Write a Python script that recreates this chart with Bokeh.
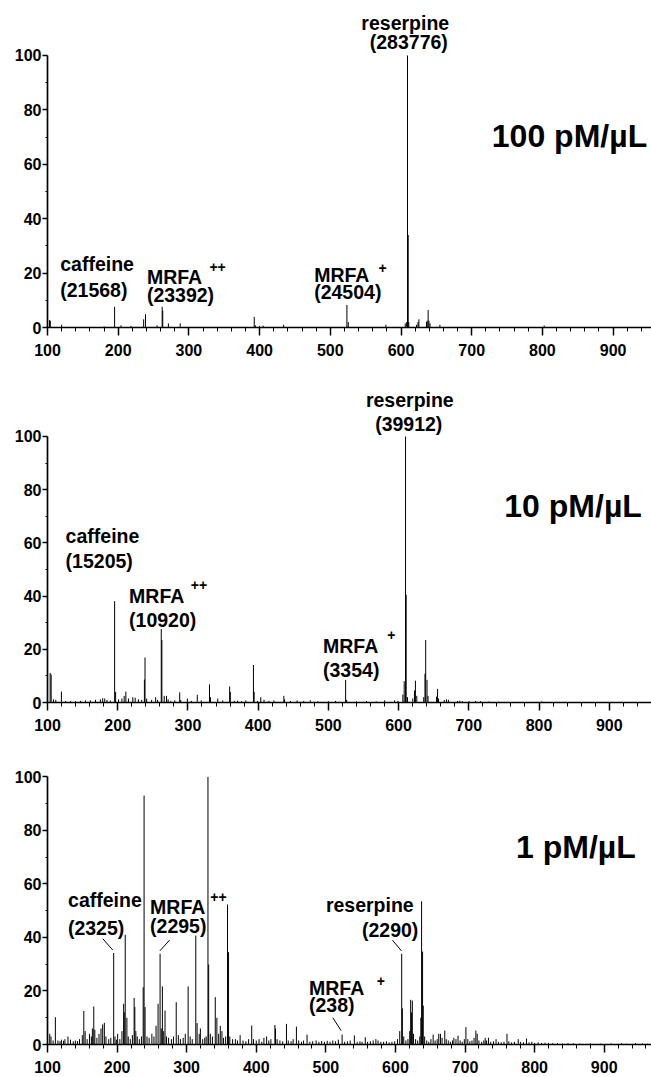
from bokeh.plotting import figure
from bokeh.models import Range1d, FixedTicker
from bokeh.layouts import column
from bokeh.embed import file_html
from bokeh.resources import INLINE
from bokeh.core.properties import value

# ---------------- data (m/z, relative abundance %) ----------------
p1_mz = [102.8, 104.0, 120.0, 180.0, 194.9, 204.0, 218.0, 236.0, 238.6, 255.0,
         262.2, 263.0, 271.0, 287.7, 392.4, 394.0, 400.0, 405.0, 434.0, 523.5,
         525.4, 578.6, 606.0, 608.0, 609.2, 610.2, 611.0, 622.0, 624.0, 625.3,
         636.0, 637.0, 638.4, 639.5, 641.0, 655.0, 802.5]
p1_int = [2.7, 2.5, 1.0, 0.4, 7.6, 0.8, 0.6, 3.0, 4.9, 0.8,
          7.6, 6.2, 1.5, 1.5, 3.9, 0.8, 0.6, 0.7, 1.0, 8.3,
          2.0, 1.0, 1.5, 2.0, 100.0, 34.0, 2.0, 1.0, 2.0, 3.0,
          2.0, 2.5, 6.4, 2.5, 1.5, 1.0, 0.7]

p2_mz = [103.8, 105.2, 108.5, 111.8, 119.8, 125.9, 133.0, 140.0, 147.0, 154.0,
         161.0, 168.3, 175.3, 178.6, 181.5, 184.7, 189.5, 195.6, 197.0, 201.2,
         206.0, 209.2, 211.6, 215.3, 221.5, 224.8, 229.5, 234.2, 238.0, 238.9,
         241.2, 248.3, 254.0, 256.8, 262.0, 262.9, 266.2, 269.5, 271.8, 275.6,
         281.3, 288.3, 289.7, 299.2, 304.8, 313.3, 318.9, 330.7, 332.1, 342.5,
         349.5, 359.4, 360.4, 366.0, 370.7, 376.4, 382.5, 393.3, 394.3, 399.0,
         403.7, 408.4, 415.4, 422.5, 436.6, 437.6, 446.0, 455.5, 464.9, 474.3,
         485.0, 500.0, 510.0, 524.6, 526.0, 540.0, 554.3, 568.4, 580.2, 594.3,
         599.0, 606.1, 608.0, 609.9, 610.8, 612.7, 620.2, 622.6, 624.0, 625.9,
         635.8, 637.6, 638.6, 640.5, 641.9, 654.1, 655.5, 656.9, 665.0, 668.2,
         671.0, 683.8, 687.1, 690.8, 700.3, 709.7, 716.7, 728.5, 742.6, 803.8]
p2_int = [11.1, 10.5, 1.2, 1.0, 4.1, 0.6, 0.5, 0.5, 0.6, 0.8,
          0.8, 1.0, 1.2, 1.6, 1.5, 1.0, 0.7, 38.1, 4.0, 1.2,
          1.5, 2.5, 4.1, 1.5, 2.0, 1.8, 1.2, 1.0, 8.6, 16.9,
          1.5, 1.0, 2.0, 1.0, 27.6, 23.5, 2.5, 2.5, 1.2, 0.6,
          0.8, 3.8, 1.0, 1.5, 0.6, 2.9, 0.8, 6.8, 2.0, 1.5,
          0.8, 6.0, 4.0, 0.6, 0.7, 0.5, 0.8, 14.1, 4.0, 0.6,
          2.0, 1.0, 0.6, 0.8, 2.5, 1.2, 0.6, 0.8, 0.6, 0.8,
          0.5, 0.5, 0.6, 8.5, 1.0, 0.4, 0.6, 0.4, 0.8, 0.8,
          0.6, 3.0, 8.0, 100.0, 40.5, 2.0, 1.5, 4.5, 8.2, 2.5,
          2.0, 10.8, 23.5, 8.5, 2.5, 2.2, 5.1, 1.5, 1.0, 1.2,
          1.0, 0.6, 0.7, 0.5, 0.5, 0.6, 0.5, 0.4, 0.3, 0.4]

p3_mz = [103.2, 105.0, 108.0, 111.3, 115.0, 118.0, 120.0, 123.0, 125.0, 129.4,
         133.0, 137.0, 140.0, 143.0, 146.0, 150.0, 152.2, 154.1, 157.0, 160.3,
         163.0, 164.5, 166.5, 168.0, 171.0, 174.0, 176.9, 179.3, 181.7, 184.0,
         188.0, 191.0, 195.1, 197.0, 199.0, 200.8, 204.0, 207.0, 209.4, 210.3,
         211.7, 214.1, 216.0, 219.0, 222.0, 224.5, 225.5, 227.0, 229.0, 232.0,
         235.0, 237.5, 238.8, 240.2, 243.0, 246.0, 250.0, 253.0, 256.0, 258.9,
         261.8, 263.5, 265.1, 267.0, 268.9, 271.0, 274.0, 278.0, 281.0, 285.0,
         288.0, 291.0, 295.0, 298.0, 302.1, 305.0, 308.0, 313.1, 315.0, 318.0,
         319.7, 323.0, 326.0, 328.0, 330.6, 331.6, 334.0, 337.0, 341.1, 343.4,
         346.0, 348.3, 350.7, 353.0, 356.0, 358.7, 360.2, 362.0, 366.0, 370.0,
         373.0, 376.8, 381.0, 385.0, 389.0, 393.5, 396.0, 400.0, 404.0, 408.0,
         411.0, 414.9, 418.0, 421.0, 426.8, 427.7, 430.0, 434.0, 438.0, 443.4,
         446.0, 450.0, 453.0, 457.7, 461.0, 465.0, 468.0, 473.0, 477.0, 481.0,
         486.0, 490.0, 494.0, 498.0, 502.0, 506.0, 510.0, 514.0, 518.0, 523.4,
         527.0, 531.0, 535.0, 541.0, 545.0, 549.0, 552.0, 556.7, 560.0, 564.0,
         568.0, 571.9, 575.0, 579.0, 583.0, 587.0, 591.0, 595.0, 599.0, 603.0,
         606.2, 609.0, 610.0, 612.0, 615.0, 618.0, 620.5, 621.9, 623.0, 624.3,
         626.0, 629.0, 632.0, 635.0, 636.5, 637.6, 639.0, 640.0, 642.0, 645.0,
         648.0, 651.0, 654.2, 657.0, 660.0, 662.3, 664.7, 667.0, 670.9, 673.0,
         676.0, 679.0, 682.0, 684.0, 687.0, 690.0, 693.0, 696.0, 699.0, 701.3,
         704.0, 707.0, 710.0, 713.0, 715.6, 717.5, 720.0, 724.0, 727.0, 729.0,
         731.0, 733.7, 737.0, 741.0, 744.6, 748.0, 752.0, 756.0, 760.3, 763.0,
         767.0, 771.0, 776.5, 780.0, 784.0, 788.4, 792.0, 796.0, 800.0, 805.0,
         810.0, 815.0, 820.0, 826.0, 833.0, 840.0, 848.0, 856.0, 865.0, 880.0,
         895.0, 910.0, 925.0, 932.0, 945.0, 955.0, 962.0]
p3_int = [4.0, 3.0, 1.5, 10.2, 1.5, 1.2, 1.8, 1.4, 2.0, 3.0,
          1.8, 1.2, 1.5, 1.3, 2.0, 3.5, 12.5, 5.0, 2.0, 4.0,
          3.0, 6.0, 14.2, 5.5, 2.5, 4.0, 6.0, 7.5, 8.1, 3.0,
          2.0, 2.5, 34.2, 3.0, 1.8, 4.0, 2.0, 5.0, 15.2, 12.0,
          41.0, 10.0, 3.0, 2.0, 3.5, 17.4, 14.0, 5.0, 3.0, 2.0,
          3.0, 21.4, 93.0, 14.0, 3.0, 2.5, 4.0, 3.0, 7.0, 15.2,
          33.9, 6.0, 21.7, 5.0, 12.7, 3.0, 2.5, 2.0, 3.0, 15.8,
          3.5, 2.0, 2.5, 4.0, 21.7, 3.0, 2.0, 40.7, 8.0, 4.0,
          6.0, 2.0, 2.5, 3.0, 100.0, 29.9, 4.0, 3.0, 17.7, 10.0,
          4.0, 7.0, 5.0, 2.5, 3.0, 52.3, 34.5, 3.0, 2.0, 2.0,
          1.5, 3.5, 1.5, 1.2, 2.0, 7.1, 2.0, 1.5, 2.0, 1.0,
          2.5, 3.0, 1.5, 2.0, 7.3, 6.0, 2.0, 1.5, 1.2, 7.7,
          1.5, 1.2, 2.0, 6.7, 1.5, 1.0, 1.5, 3.7, 1.0, 1.2,
          1.5, 1.0, 1.3, 1.0, 1.4, 1.0, 1.5, 1.2, 1.8, 3.7,
          1.0, 1.2, 1.5, 3.4, 1.0, 1.2, 1.0, 2.7, 1.0, 1.2,
          1.5, 2.0, 1.5, 1.0, 1.0, 1.2, 0.8, 1.0, 1.2, 2.0,
          5.0, 33.9, 13.5, 3.0, 1.5, 2.0, 5.0, 16.7, 12.0, 16.4,
          4.0, 2.0, 1.5, 3.0, 10.0, 53.5, 34.7, 14.5, 3.0, 1.5,
          1.0, 2.0, 3.7, 1.5, 2.0, 4.0, 4.0, 2.5, 5.2, 2.0,
          1.5, 1.0, 1.5, 2.5, 2.0, 3.3, 1.5, 1.0, 2.0, 6.5,
          2.0, 1.2, 1.5, 2.5, 5.2, 4.0, 1.5, 1.0, 1.5, 2.5,
          1.5, 2.5, 1.0, 1.2, 2.0, 1.0, 0.8, 1.0, 4.0, 1.2,
          0.8, 1.0, 2.0, 1.0, 0.8, 2.2, 0.8, 1.0, 0.6, 0.8,
          0.6, 0.7, 0.6, 0.5, 0.5, 0.4, 0.5, 0.4, 0.3, 0.4,
          0.3, 0.4, 0.5, 0.3, 0.5, 0.4, 0.3]

y_ticks = [0, 20, 40, 60, 80, 100]
x_ticks = [100, 200, 300, 400, 500, 600, 700, 800, 900]

# annotation texts: (text, m/z, % at text baseline, align, font px)
p1_labels = [("reserpine", 606, 108.5, "center", 19.5),
             ("(283776)", 611, 101.8, "center", 19.5),
             ("caffeine", 118, 20.2, "left", 19.5),
             ("(21568)", 118, 10.4, "left", 19.5),
             ("MRFA", 240.6, 15.3, "left", 19.5),
             ("++", 329, 19.8, "left", 14),
             ("(23392)", 240.6, 8.6, "left", 19.5),
             ("MRFA", 477.2, 16.0, "left", 19.5),
             ("+", 568, 19.6, "left", 14),
             ("(24504)", 477.2, 9.8, "left", 19.5),
             ("100 pM/µL", 948.2, 65.0, "right", 32)]
p2_labels = [("reserpine", 616, 110.4, "center", 19.5),
             ("(39912)", 614.5, 101.2, "center", 19.5),
             ("caffeine", 125.8, 59.3, "left", 19.5),
             ("(15205)", 125.8, 49.9, "left", 19.5),
             ("MRFA", 216.2, 36.5, "left", 19.5),
             ("++", 304.0, 41.8, "left", 14),
             ("(10920)", 216.2, 27.8, "left", 19.5),
             ("MRFA", 492.4, 17.8, "left", 19.5),
             ("+", 584.0, 23.0, "left", 14),
             ("(3354)", 492.4, 9.0, "left", 19.5),
             ("10 pM/µL", 946.5, 68.2, "right", 32)]
p3_labels = [("caffeine", 129.6, 50.6, "left", 19.5),
             ("(2325)", 129.3, 40.0, "left", 19.5),
             ("MRFA", 247.4, 48.1, "left", 19.5),
             ("++", 334.0, 52.6, "left", 14),
             ("(2295)", 247.4, 41.0, "left", 19.5),
             ("reserpine", 500.1, 48.6, "left", 19.5),
             ("(2290)", 551.9, 39.4, "left", 19.5),
             ("MRFA", 475.8, 17.6, "left", 19.5),
             ("+", 573.0, 21.4, "left", 14),
             ("(238)", 475.8, 11.4, "left", 19.5),
             ("1 pM/µL", 945.4, 68.3, "right", 32)]
# leader lines (x0, y0, x1, y1)
p3_leaders = [(179.5, 39.5, 193.8, 35.3),
              (275.5, 39.0, 261.5, 35.0),
              (595.7, 39.0, 608.6, 35.0),
              (510.0, 10.0, 521.9, 5.2)]

LABEL_FONT = "Liberation Sans"
TICK_FONT = "Liberation Sans"


def make_panel(mz, inten, labels, height, left, bottom, ytop, xend, leaders=None):
    p = figure(width=651, height=height, output_backend="svg", toolbar_location=None,
               x_range=Range1d(100, xend), y_range=Range1d(0, ytop),
               min_border_left=left, min_border_right=0, min_border_top=0,
               min_border_bottom=bottom, background_fill_color="white",
               border_fill_color="white")
    p.outline_line_color = None
    p.xgrid.visible = False
    p.ygrid.visible = False

    p.segment(x0=mz, y0=[0] * len(mz), x1=mz, y1=inten, line_color="black", line_width=1)

    px_per_unit = (height - bottom) / ytop
    for (t, x, y, al, sz) in labels:
        # raise so that the glyph baseline lands on y (Bokeh anchors lower than the baseline)
        dy = 0.46 * sz / px_per_unit
        p.text(x=[x], y=[y + dy], text=[t], text_font=value(LABEL_FONT),
               text_font_style="bold", text_font_size=f"{sz}px", text_align=al,
               text_baseline="alphabetic", text_color="black")
    if leaders:
        p.segment(x0=[l[0] for l in leaders], y0=[l[1] for l in leaders],
                  x1=[l[2] for l in leaders], y1=[l[3] for l in leaders],
                  line_color="black", line_width=1)

    ya = p.yaxis[0]
    ya.ticker = FixedTicker(ticks=y_ticks, minor_ticks=[10, 30, 50, 70, 90])
    ya.bounds = (0, 100)
    ya.major_tick_out = 5
    ya.major_tick_in = 0
    ya.minor_tick_out = 2
    ya.minor_tick_in = 0
    ya.axis_line_width = 1.7
    ya.major_tick_line_width = 1.5
    ya.major_label_standoff = 1
    ya.major_label_text_font = TICK_FONT
    ya.major_label_text_font_style = "bold"
    ya.major_label_text_font_size = "16px"
    ya.major_label_text_color = "black"

    xa = p.xaxis[0]
    xa.ticker = FixedTicker(ticks=x_ticks, minor_ticks=list(range(100, 970, 20)))
    xa.major_tick_out = 8
    xa.major_tick_in = 0
    xa.minor_tick_out = 4
    xa.minor_tick_in = 0
    xa.axis_line_width = 1.7
    xa.major_tick_line_width = 1.5
    xa.major_label_standoff = 8
    xa.major_label_text_font = TICK_FONT
    xa.major_label_text_font_style = "bold"
    xa.major_label_text_font_size = "16px"
    xa.major_label_text_color = "black"
    return p


p1 = make_panel(p1_mz, p1_int, p1_labels, 370, 47, 43, 120.2, 954.3)
p2 = make_panel(p2_mz, p2_int, p2_labels, 367, 42, 35, 124.8, 960.2)
p3 = make_panel(p3_mz, p3_int, p3_labels, 340, 43, 33, 114.7, 968.0, p3_leaders)

layout = column(p1, p2, p3, spacing=0)
open("out.html", "w").write(file_html(layout, INLINE))
